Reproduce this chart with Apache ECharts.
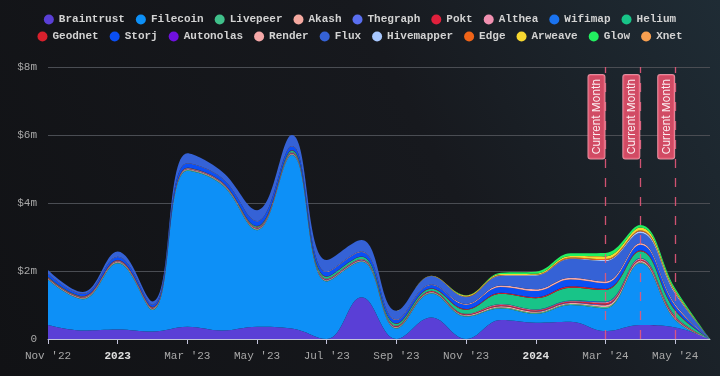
<!DOCTYPE html>
<html>
<head>
<meta charset="utf-8">
<script src="https://cdn.jsdelivr.net/npm/echarts@6/dist/echarts.min.js"></script>
<style>
  html, body { margin: 0; padding: 0; background: #15171b; }
  #chart { width: 720px; height: 376px; }
</style>
</head>
<body>
<div id="chart"></div>
<script>
// months on the x axis (year start shown as the year)
const months = ["Nov '22", "Dec '22", "2023", "Feb '23", "Mar '23", "Apr '23", "May '23", "Jun '23",
  "Jul '23", "Aug '23", "Sep '23", "Oct '23", "Nov '23", "Dec '23", "2024", "Feb '24",
  "Mar '24", "Apr '24", "May '24", "Jun '24"];
const currentMonths = ["Mar '24", "Apr '24", "May '24"];
const yTicks = [0, 2, 4, 6, 8];

// values in $m, stacked in this order
const braintrust = [0.41, 0.25, 0.28, 0.22, 0.36, 0.25, 0.36, 0.31, 0, 1.23, 0, 0.63, 0, 0.56, 0.48, 0.51, 0.23, 0.41, 0.34, 0];
const filecoin   = [1.33, 0.92, 1.95, 0.63, 4.59, 4.28, 2.84, 5.10, 1.69, 1.04, 0.31, 0.71, 0.66, 0.34, 0.26, 0.49, 0.67, 1.82, 0.22, 0];
const livepeer   = [0.02, 0.02, 0.02, 0.02, 0.02, 0.02, 0.02, 0.02, 0.02, 0.02, 0.02, 0.02, 0.02, 0.03, 0.03, 0.03, 0.04, 0.03, 0.02, 0];
const akash      = [0.02, 0.02, 0.02, 0.02, 0.02, 0.02, 0.02, 0.02, 0.02, 0.02, 0.02, 0.02, 0.02, 0.03, 0.03, 0.03, 0.05, 0.04, 0.03, 0];
const thegraph   = [0.01, 0.01, 0.01, 0.01, 0.01, 0.01, 0.01, 0.01, 0.01, 0.01, 0.01, 0.01, 0.01, 0.01, 0.01, 0.01, 0.02, 0.01, 0.01, 0];
const pokt       = [0.01, 0.01, 0.01, 0.01, 0.01, 0.01, 0.02, 0.02, 0.02, 0.02, 0.02, 0.02, 0.02, 0.03, 0.03, 0.03, 0.04, 0.03, 0.03, 0];
const althea     = [0.01, 0.01, 0.01, 0.01, 0.01, 0.01, 0.01, 0.01, 0.01, 0.01, 0.01, 0.01, 0.01, 0.02, 0.02, 0.02, 0.03, 0.03, 0.02, 0];
const wifimap    = [0, 0, 0, 0, 0, 0, 0, 0, 0, 0, 0, 0, 0, 0.01, 0.01, 0.01, 0.02, 0.01, 0.01, 0];
const helium     = [0.01, 0.01, 0.01, 0.01, 0.01, 0.01, 0.03, 0.05, 0.06, 0.07, 0.06, 0.06, 0.12, 0.30, 0.33, 0.38, 0.34, 0.20, 0.15, 0];
const geodnet    = [0.01, 0.01, 0.01, 0.01, 0.01, 0.01, 0.01, 0.01, 0.01, 0.01, 0.01, 0.01, 0.02, 0.03, 0.03, 0.04, 0.03, 0.03, 0.03, 0];
const storj      = [0.08, 0.06, 0.09, 0.06, 0.12, 0.10, 0.14, 0.12, 0.13, 0.13, 0.10, 0.10, 0.13, 0.17, 0.18, 0.20, 0.17, 0.16, 0.12, 0];
const autonolas  = [0, 0, 0, 0, 0, 0, 0, 0, 0, 0, 0, 0, 0, 0, 0, 0, 0, 0, 0, 0];
const render     = [0.01, 0.01, 0.01, 0.01, 0.01, 0.01, 0.01, 0.01, 0.01, 0.01, 0.01, 0.01, 0.02, 0.04, 0.05, 0.05, 0.05, 0.05, 0.04, 0];
const flux       = [0.11, 0.05, 0.15, 0.09, 0.29, 0.19, 0.32, 0.32, 0.34, 0.34, 0.26, 0.25, 0.20, 0.28, 0.40, 0.55, 0.60, 0.30, 0.30, 0];
const hivemapper = [0, 0, 0, 0, 0, 0, 0, 0, 0, 0, 0, 0, 0.01, 0.02, 0.02, 0.02, 0.03, 0.05, 0.04, 0];
const edge       = [0, 0, 0, 0, 0, 0, 0, 0, 0, 0, 0, 0, 0.01, 0.01, 0.01, 0.03, 0.03, 0.03, 0.02, 0];
const arweave    = [0, 0, 0, 0, 0, 0, 0, 0, 0, 0, 0, 0.01, 0.03, 0.03, 0.03, 0.04, 0.08, 0.08, 0.05, 0];
const glow       = [0, 0, 0, 0, 0, 0, 0, 0, 0, 0, 0, 0, 0.01, 0.04, 0.06, 0.08, 0.10, 0.07, 0.06, 0];
const xnet       = [0, 0, 0, 0, 0, 0, 0, 0, 0, 0, 0, 0, 0, 0, 0, 0, 0, 0, 0, 0];

const names = ['Braintrust', 'Filecoin', 'Livepeer', 'Akash', 'Thegraph', 'Pokt', 'Althea', 'Wifimap', 'Helium',
  'Geodnet', 'Storj', 'Autonolas', 'Render', 'Flux', 'Hivemapper', 'Edge', 'Arweave', 'Glow', 'Xnet'];
const values = [braintrust, filecoin, livepeer, akash, thegraph, pokt, althea, wifimap, helium,
  geodnet, storj, autonolas, render, flux, hivemapper, edge, arweave, glow, xnet];
const colors = ['#5a3fd6', '#0d90f7', '#40c08a', '#f5a9a0', '#5a6ff0', '#e0203c', '#f090b0', '#1a73f0', '#18c488',
  '#d8202c', '#0a4ff5', '#7010e0', '#f5a8a8', '#3562d6', '#a8c8ff', '#f06418', '#f8d830', '#22f060', '#f8a050'];

const mono = '"Courier New", "Liberation Mono", monospace';

let myChart = echarts.init(document.getElementById('chart'));

let series = names.map(function (n, i) {
    let s = {
        name: n,
        type: 'line',
        stack: 'total',
        smooth: 0.4,
        symbol: 'none',
        lineStyle: { width: 0 },
        areaStyle: { color: colors[i], opacity: 1 },
        data: values[i]
    };
    if (n === 'Xnet') {
        // 当前月份的竖线
        s.markLine = {
            silent: true,
            symbol: ['none', 'none'],
            lineStyle: { color: '#e4587a', type: [9, 10], width: 1.3, opacity: 0.9 },
            label: {
                show: true,
                formatter: 'Current Month',
                position: 'insideEndTop',
                distance: [8, 1],
                color: '#fff',
                fontFamily: 'Inter, "Noto Sans", sans-serif',
                fontSize: 11,
                backgroundColor: '#e6506a',
                borderColor: '#f59aab',
                borderWidth: 1,
                borderRadius: 2,
                padding: [3, 4, 2, 4]
            },
            data: currentMonths.map(function (m) { return { xAxis: m }; })
        };
    }
    return s;
});

let legendText = { color: '#d2d2d2', fontFamily: mono, fontWeight: 'bold', fontSize: 11 };

let option = {
    animation: false,
    backgroundColor: {
        type: 'linear', x: 0, y: 1, x2: 1, y2: 0,
        colorStops: [
            { offset: 0, color: '#111215' },
            { offset: 0.6, color: '#17191e' },
            { offset: 1, color: '#1f2c35' }
        ]
    },
    color: colors,
    legend: [{
        data: names.slice(0, 9),
        top: 9, left: 'center',
        icon: 'circle', itemWidth: 10, itemHeight: 10, itemGap: 11,
        textStyle: legendText
    }, {
        data: names.slice(9),
        top: 26, left: 'center',
        icon: 'circle', itemWidth: 10, itemHeight: 10, itemGap: 11,
        textStyle: legendText
    }],
    grid: { left: 48, right: 10, top: 67, bottom: 37 },
    xAxis: {
        type: 'category',
        boundaryGap: false,
        data: months,
        axisLine: { lineStyle: { color: '#c4c4dc', width: 1 } },
        axisTick: { interval: 1, length: 5, lineStyle: { color: '#c4c4dc' } },
        axisLabel: {
            interval: 1,
            margin: 12,
            color: '#a8a8a8',
            fontFamily: mono,
            fontSize: 11,
            formatter: function (v) {
                return /^\d{4}$/.test(v) ? '{yr|' + v + '}' : v;
            },
            rich: { yr: { color: '#e0e0e0', fontWeight: 'bold', fontFamily: mono, fontSize: 11 } }
        }
    },
    yAxis: {
        type: 'value',
        min: yTicks[0],
        max: yTicks[yTicks.length - 1],
        interval: 2,
        axisLine: { show: false },
        axisTick: { show: false },
        splitLine: { lineStyle: { color: '#4a4d53', width: 1 } },
        axisLabel: {
            margin: 11,
            color: '#a8a8a8',
            fontFamily: mono,
            fontSize: 11,
            formatter: function (v) { return v === 0 ? '0' : '$' + v + 'm'; }
        }
    },
    series: series
};
myChart.setOption(option);
window.addEventListener('resize', function () { myChart.resize() });
</script>
</body>
</html>
